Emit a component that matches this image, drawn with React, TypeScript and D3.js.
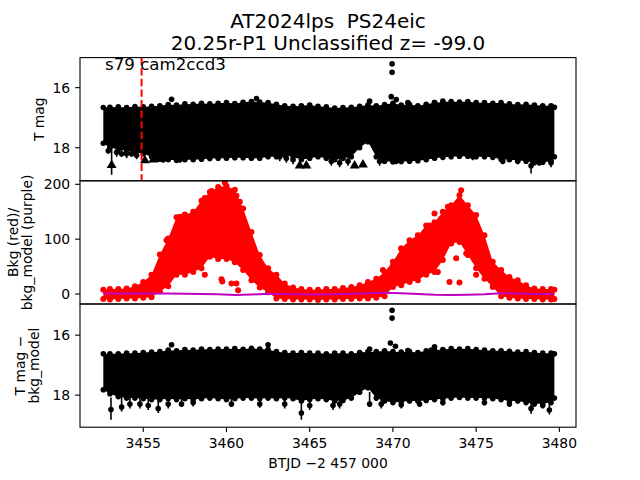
import React from 'react';
import * as d3 from 'd3';

// time grid (BTJD - 2457000)
const T = [3452.6, 3453.0, 3453.5, 3454.0, 3454.5, 3455.0, 3455.5, 3456.0, 3456.5, 3457.0, 3457.5, 3458.0, 3458.5, 3459.0, 3459.5, 3460.0, 3460.5, 3461.0, 3461.5, 3462.0, 3462.5, 3463.0, 3463.5, 3464.0, 3464.5, 3465.0, 3465.5, 3466.0, 3466.5, 3467.0, 3467.5, 3468.0, 3468.5, 3469.0, 3469.5, 3470.0, 3470.5, 3471.0, 3471.5, 3472.0, 3472.5, 3473.0, 3473.5, 3474.0, 3474.5, 3475.0, 3475.5, 3476.0, 3476.5, 3477.0, 3477.5, 3478.0, 3478.5, 3479.0, 3479.5, 3479.7];

// Panel 1: T mag envelope (bright / faint edges)
const magTop = [16.66, 16.65, 16.64, 16.66, 16.63, 16.64, 16.62, 16.6, 16.56, 16.58, 16.54, 16.55, 16.52, 16.54, 16.52, 16.5, 16.53, 16.49, 16.46, 16.48, 16.5, 16.55, 16.6, 16.62, 16.6, 16.58, 16.62, 16.64, 16.68, 16.66, 16.65, 16.62, 16.58, 16.6, 16.56, 16.52, 16.58, 16.56, 16.6, 16.55, 16.5, 16.48, 16.46, 16.48, 16.46, 16.5, 16.5, 16.52, 16.5, 16.54, 16.56, 16.55, 16.58, 16.6, 16.6, 16.65];
const magBottom = [17.85, 18.0, 18.05, 18.1, 18.15, 18.2, 18.3, 18.38, 18.4, 18.42, 18.4, 18.4, 18.38, 18.36, 18.35, 18.35, 18.33, 18.33, 18.35, 18.35, 18.3, 18.3, 18.25, 18.3, 18.4, 18.35, 18.3, 18.35, 18.4, 18.35, 18.3, 18.0, 17.8, 18.3, 18.45, 18.47, 18.46, 18.45, 18.43, 18.4, 18.35, 18.32, 18.3, 18.28, 18.28, 18.3, 18.3, 18.32, 18.38, 18.4, 18.42, 18.45, 18.5, 18.48, 18.45, 18.3];
// [time, point mag, error-bar bottom]
const magSpikes = [[3452.9, 18.1, 18.2], [3453.4, 18.15, 18.3], [3453.7, 18.2, 18.3], [3454.0, 18.2, 18.35], [3454.3, 18.2, 18.3], [3454.6, 18.25, 18.38], [3456.2, 18.4, 18.5], [3457.2, 18.4, 18.5], [3463.2, 18.3, 18.45], [3463.6, 18.35, 18.5], [3464.0, 18.4, 18.55], [3466.3, 18.45, 18.6], [3466.8, 18.5, 18.65], [3467.3, 18.45, 18.6], [3469.2, 18.45, 18.6], [3470.2, 18.45, 18.55], [3474.8, 18.3, 18.42], [3476.6, 18.45, 18.55], [3477.5, 18.45, 18.55], [3478.3, 18.6, 18.86], [3478.8, 18.5, 18.6], [3479.5, 18.5, 18.65]];
const magLimits = [[3453.1, 18.58], [3455.1, 18.42], [3455.6, 18.4], [3455.9, 18.38], [3464.4, 18.6], [3464.8, 18.6], [3467.7, 18.6], [3468.2, 18.56]];
const magOutliers = [[3456.7, 16.39], [3461.8, 16.36], [3469.95, 15.21], [3469.95, 15.49], [3469.9, 16.3], [3470.2, 16.4], [3468.6, 16.45], [3470.9, 16.5], [3472.5, 16.5], [3473.0, 16.45]];

// Panel 2: background (red) envelope and model (purple)
const bkgTop = [8, 9, 9, 10, 14, 22, 35, 72, 101, 140, 144, 150, 170, 186, 195, 197, 190, 156, 113, 71, 47, 35, 19, 12, 9, 8, 8, 9, 9, 11, 13, 16, 22, 28, 40, 59, 83, 98, 107, 125, 131, 150, 162, 180, 162, 144, 107, 59, 44, 31, 25, 16, 10, 9, 9, 8];
const bkgBottom = [-9, -10, -9, -8, -8, -7, -6, 5, 14, 35, 35, 40, 47, 68, 64, 64, 58, 44, 25, 12, 3, -8, -9, -10, -10, -10, -11, -10, -10, -9, -9, -8, -8, -7, -4, 13, 16, 22, 25, 35, 40, 62, 92, 95, 71, 47, 28, 13, -4, -7, -8, -9, -9, -10, -10, -9];
const bkgOutliers = [[3456.4, 98], [3457.2, 141], [3457.5, 145], [3458.7, 175], [3459.1, 188], [3460.6, 179], [3460.8, 168], [3458.7, 35], [3459.7, 27], [3459.75, 23], [3460.3, 19], [3460.6, 19], [3460.7, 7], [3460.9, 54], [3459.9, 203], [3470.0, 51], [3470.5, 83], [3472.7, 40], [3473.4, 22], [3474.0, 21], [3475.0, 35], [3473.8, 65], [3474.4, 74], [3474.1, 189], [3472.5, 147], [3472.2, 125], [3473.3, 159], [3469.4, 44]];
const modelT = [3452.6, 3453.5, 3454.5, 3455.5, 3456.5, 3457.5, 3458.5, 3459.5, 3460.5, 3461.5, 3462.5, 3463.5, 3464.5, 3465.5, 3466.5, 3467.5, 3468.5, 3469.5, 3470.5, 3471.5, 3472.5, 3473.5, 3474.5, 3475.5, 3476.5, 3477.5, 3478.5, 3479.7];
const modelV = [1, 1, 1.5, 1, 1, 0.5, 0, -0.5, -2, -1, 0.5, 0, -0.5, -1, -0.5, 0.5, 1.5, 2.5, 1.5, 0, -1.5, -2, -1.5, -0.5, 1.5, 1, 0, 0];

// Panel 3: T mag - bkg_model envelope
const difTop = [16.62, 16.62, 16.62, 16.6, 16.6, 16.58, 16.56, 16.55, 16.5, 16.52, 16.48, 16.5, 16.46, 16.48, 16.46, 16.46, 16.45, 16.47, 16.44, 16.46, 16.48, 16.55, 16.58, 16.6, 16.58, 16.6, 16.6, 16.62, 16.6, 16.6, 16.62, 16.58, 16.55, 16.55, 16.52, 16.55, 16.56, 16.55, 16.58, 16.52, 16.5, 16.48, 16.45, 16.46, 16.45, 16.48, 16.5, 16.52, 16.52, 16.54, 16.56, 16.55, 16.58, 16.6, 16.6, 16.62];
const difBottom = [17.82, 17.95, 18.05, 18.1, 18.1, 18.12, 18.15, 18.15, 18.12, 18.15, 18.12, 18.15, 18.12, 18.1, 18.12, 18.15, 18.12, 18.1, 18.1, 18.12, 18.1, 18.12, 18.1, 18.12, 18.2, 18.15, 18.12, 18.15, 18.2, 18.18, 18.1, 17.9, 17.75, 18.1, 18.2, 18.25, 18.22, 18.2, 18.2, 18.18, 18.15, 18.12, 18.1, 18.08, 18.1, 18.1, 18.1, 18.12, 18.15, 18.2, 18.2, 18.25, 18.3, 18.28, 18.25, 18.1];
const difSpikes = [[3453.06, 18.48, 18.82], [3453.7, 18.4, 18.55], [3454.2, 18.3, 18.45], [3454.8, 18.3, 18.45], [3455.3, 18.35, 18.5], [3455.9, 18.45, 18.6], [3456.5, 18.3, 18.45], [3457.3, 18.3, 18.4], [3458.0, 18.25, 18.38], [3460.3, 18.3, 18.4], [3462.0, 18.3, 18.42], [3463.5, 18.3, 18.45], [3464.5, 18.6, 18.82], [3465.0, 18.35, 18.5], [3466.4, 18.35, 18.5], [3466.8, 18.3, 18.45], [3468.6, 18.3, 18.4], [3469.3, 18.3, 18.45], [3470.5, 18.32, 18.45], [3471.6, 18.3, 18.4], [3473.0, 18.25, 18.35], [3475.5, 18.25, 18.35], [3477.0, 18.3, 18.4], [3478.3, 18.45, 18.62], [3479.0, 18.35, 18.45], [3479.4, 18.5, 18.65]];
const difOutliers = [[3469.95, 15.17], [3469.95, 15.43], [3469.85, 16.26], [3470.15, 16.37], [3468.6, 16.46], [3470.9, 16.51], [3472.3, 16.5], [3472.5, 16.39], [3456.7, 16.32], [3462.5, 16.32]];

const xTicks = [3455, 3460, 3465, 3470, 3475, 3480];
const magTicks = [16, 18];
const bkgTicks = [0, 100, 200];
const sectorLine = 3454.9;

const L = 80, R = 576;
const P = [57.6, 180.8, 304, 427.2];
const FONT = 'DejaVu Sans';

export default function App() {
  const x = d3.scaleLinear().domain([3451.2, 3481.0]).range([L, R]);
  const y1 = d3.scaleLinear().domain([15.0, 19.1]).range([P[0], P[1]]);
  const y2 = d3.scaleLinear().domain([206.4, -18.2]).range([P[1], P[2]]);
  const y3 = d3.scaleLinear().domain([14.96, 19.07]).range([P[2], P[3]]);

  const band = (top: number[], bot: number[], y: d3.ScaleLinear<number, number>) =>
    d3.area<number>().x((_, i) => x(T[i])).y0((_, i) => y(bot[i])).y1((_, i) => y(top[i]))(T) || '';

  const tri = d3.symbol(d3.symbolTriangle, 42)() || '';

  const photPanel = (top: number[], bot: number[], spikes: number[][], outliers: number[][], y: d3.ScaleLinear<number, number>, id: string) => (
    <g clipPath={`url(#${id})`}>
      <path d={band(top, bot, y)} fill="black" />
      {T.map((t, i) => <circle key={'u' + i} cx={x(t)} cy={y(top[i])} r={2.8} fill="black" />)}
      {T.map((t, i) => <circle key={'l' + i} cx={x(t)} cy={y(bot[i])} r={2.8} fill="black" />)}
      {spikes.map((s, i) => (
        <g key={'s' + i}>
          <line x1={x(s[0])} x2={x(s[0])} y1={y(s[1]) - 12} y2={y(s[2])} stroke="black" strokeWidth={1.6} />
          <circle cx={x(s[0])} cy={y(s[1])} r={2.8} fill="black" />
        </g>
      ))}
      {outliers.map((o, i) => <circle key={'o' + i} cx={x(o[0])} cy={y(o[1])} r={2.8} fill="black" />)}
    </g>
  );

  const yAxis = (ticks: number[], y: d3.ScaleLinear<number, number>) => ticks.map(t => (
    <g key={t}>
      <line x1={L - 4.9} x2={L} y1={y(t)} y2={y(t)} stroke="black" strokeWidth={1.1} />
      <text x={L - 9.8} y={y(t)} textAnchor="end" dominantBaseline="central" fontSize={13.9}>{t}</text>
    </g>
  ));

  const modelLine = d3.line<number>().x((_, i) => x(modelT[i])).y(v => y2(v))(modelV) || '';

  return (
    <svg width={640} height={480} style={{ position: 'absolute', left: 0, top: 0, background: 'white' }} fontFamily={FONT}>
      <defs>
        <clipPath id="c1"><rect x={L} y={P[0]} width={R - L} height={P[1] - P[0]} /></clipPath>
        <clipPath id="c2"><rect x={L} y={P[1]} width={R - L} height={P[2] - P[1]} /></clipPath>
        <clipPath id="c3"><rect x={L} y={P[2]} width={R - L} height={P[3] - P[2]} /></clipPath>
      </defs>
      <rect x={0} y={0} width={640} height={480} fill="white" />

      {/* Panel 1 */}
      {photPanel(magTop, magBottom, magSpikes, magOutliers, y1, 'c1')}
      <g clipPath="url(#c1)">
        <line x1={x(3453.1)} x2={x(3453.1)} y1={y1(18.05)} y2={y1(18.9)} stroke="black" strokeWidth={1.6} />
        {magLimits.map((m, i) => (
          <path key={i} d={tri} transform={`translate(${x(m[0])},${y1(m[1])})`} fill="black" />
        ))}
        <line x1={x(sectorLine)} x2={x(sectorLine)} y1={P[0]} y2={P[1]} stroke="red" strokeWidth={2} strokeDasharray="7.4,3.2" />
      </g>
      <text x={105} y={69.5} fontSize={16.67}>s79 cam2ccd3</text>

      {/* Panel 2 */}
      <g clipPath="url(#c2)">
        <path d={band(bkgTop, bkgBottom, y2)} fill="red" />
        {T.map((t, i) => <circle key={'u' + i} cx={x(t)} cy={y2(bkgTop[i])} r={3} fill="red" />)}
        {T.map((t, i) => <circle key={'l' + i} cx={x(t)} cy={y2(bkgBottom[i])} r={3} fill="red" />)}
        {bkgOutliers.map((o, i) => <circle key={'o' + i} cx={x(o[0])} cy={y2(o[1])} r={3} fill="red" />)}
        <path d={modelLine} fill="none" stroke="#bf00bf" strokeWidth={2} />
      </g>

      {/* Panel 3 */}
      {photPanel(difTop, difBottom, difSpikes, difOutliers, y3, 'c3')}

      {/* frames */}
      {[0, 1, 2].map(i => (
        <rect key={i} x={L} y={P[i]} width={R - L} height={P[i + 1] - P[i]} fill="none" stroke="black" strokeWidth={1.1} />
      ))}

      {yAxis(magTicks, y1)}
      {yAxis(bkgTicks, y2)}
      {yAxis(magTicks, y3)}

      {xTicks.map(t => (
        <g key={t}>
          <line x1={x(t)} x2={x(t)} y1={P[3]} y2={P[3] + 4.9} stroke="black" strokeWidth={1.1} />
          <text x={x(t)} y={447.5} textAnchor="middle" fontSize={13.9}>{t}</text>
        </g>
      ))}
      <text x={328} y={468.3} textAnchor="middle" fontSize={13.9}>BTJD −2 457 000</text>

      {/* y labels */}
      <text transform={`translate(44,${(P[0] + P[1]) / 2}) rotate(-90)`} textAnchor="middle" fontSize={13.9}>T mag</text>
      <text transform={`translate(18.3,${(P[1] + P[2]) / 2}) rotate(-90)`} textAnchor="middle" fontSize={13.9}>Bkg (red)/</text>
      <text transform={`translate(31.5,${(P[1] + P[2]) / 2}) rotate(-90)`} textAnchor="middle" fontSize={13.9}>bkg_model (purple)</text>
      <text transform={`translate(24.5,${(P[2] + P[3]) / 2}) rotate(-90)`} textAnchor="middle" fontSize={13.9}>T mag −</text>
      <text transform={`translate(38.5,${(P[2] + P[3]) / 2}) rotate(-90)`} textAnchor="middle" fontSize={13.9}>bkg_model</text>

      {/* title */}
      <text x={328} y={27.5} textAnchor="middle" fontSize={20} xmlSpace="preserve" style={{ whiteSpace: 'pre' }}>AT2024lps  PS24eic</text>
      <text x={328} y={49.5} textAnchor="middle" fontSize={20}>20.25r-P1 Unclassified z= -99.0</text>
    </svg>
  );
}
